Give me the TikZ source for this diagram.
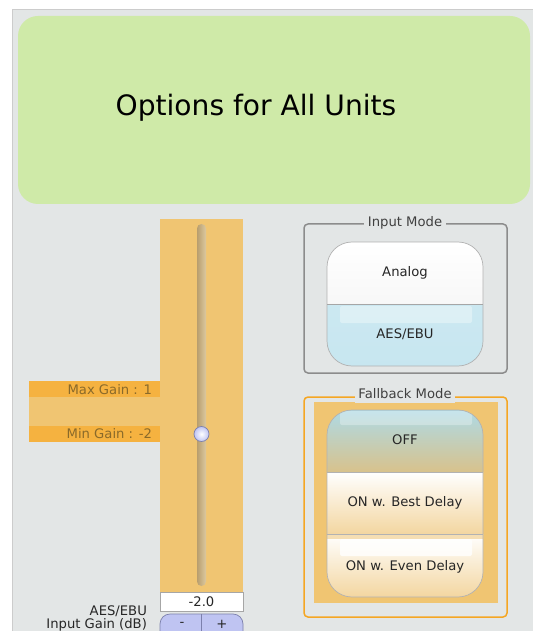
\documentclass[tikz,border=0pt]{standalone}
\usepackage{fontspec}
\setmainfont{DejaVu Sans}
\usepackage{tikz}
\usetikzlibrary{positioning}
\definecolor{panelgray}{HTML}{E3E6E6}
\definecolor{headgreen}{HTML}{CFEAA8}
\definecolor{sliderorange}{HTML}{F0C572}
\definecolor{bandorange}{HTML}{F5B240}
\definecolor{gaintext}{HTML}{8A6A2A}
\definecolor{groupgray}{HTML}{8C8C8C}
\definecolor{grouporange}{HTML}{F5A623}
\definecolor{trackdark}{HTML}{B89E6E}
\definecolor{tracklight}{HTML}{DCC9A0}
\definecolor{knobblue}{HTML}{BFC4F2}
\definecolor{knobrim}{HTML}{7C80AC}
\definecolor{aesblue}{HTML}{A9D9E8}
\definecolor{offblue}{HTML}{AEDAE6}
\definecolor{offtan}{HTML}{D8C28C}
\definecolor{ontan}{HTML}{F3D6A0}

\begin{document}
\begin{tikzpicture}[x=0.02cm,y=-0.02cm,
  small/.style={font=\fontsize{7.5}{9}\selectfont, text=black!85, inner sep=1pt},
  gainlabel/.style={small, text=gaintext, anchor=east},
  grouptitle/.style={small, fill=panelgray, inner sep=2pt, text=black!75}]
  \clip (0,0) rectangle (533,631);
  \fill[white] (0,0) rectangle (533,631);
  \fill[panelgray] (12,9) rectangle (533,631);
  \draw[black!20] (12.5,631) -- (12.5,9.5) -- (533,9.5);

  % header
  \fill[headgreen, rounded corners=0.4cm] (18,16) rectangle (530,204);
  \node[font=\fontsize{16}{19}\selectfont] (title) at (256,108) {Options for All Units};

  % gain slider
  \fill[bandorange] (29,381) rectangle (160,397);
  \fill[sliderorange] (29,397) rectangle (160,426);
  \fill[bandorange] (29,426) rectangle (160,442);
  \fill[sliderorange] (160,219) rectangle (243,593);
  \shade[left color=trackdark, right color=tracklight, rounded corners=0.09cm] (197,224) rectangle (206,586);
  \node[gainlabel] (maxgain) at (154,389.5) {Max Gain : 1};
  \node[gainlabel] (mingain) at (154,434) {Min Gain : -2};
  \node[circle, draw=knobrim, inner color=white, outer color=knobblue, minimum size=0.3cm, inner sep=0pt] (knob) at (201.5,434) {};

  \node[small, draw=black!35, fill=white, minimum width=1.66cm, minimum height=0.38cm, inner sep=0pt] (gainval) at (201.5,601.5) {-2.0};
  \node[small, anchor=east] (gainname) at (149,611) {AES/EBU};
  \node[small, anchor=east] (gainunit) at (149,625) {Input Gain (dB)};
  \draw[knobrim, fill=knobblue, rounded corners=0.2cm] (160,614) rectangle (243,645);
  \draw[knobrim] (201.5,614) -- (201.5,631);
  \node[small] (minus) at (182,624) {-};
  \node[small] (plus) at (222,624) {+};

  % input mode
  \draw[groupgray, line width=0.03cm, rounded corners=0.08cm] (304,224) rectangle (507,373);
  \node[grouptitle] (inputtitle) at (405,223) {Input Mode};
  \begin{scope}
    \clip[rounded corners=0.5cm] (327,242) rectangle (483,366);
    \shade[top color=white, bottom color=black!3] (327,242) rectangle (483,304);
    \shade[top color=aesblue!60, middle color=aesblue, bottom color=aesblue!65] (327,304) rectangle (483,366);
    \fill[white, opacity=0.35, rounded corners=0.04cm] (340,306) rectangle (472,323);
  \end{scope}
  \draw[black!30, rounded corners=0.5cm] (327,242) rectangle (483,366);
  \draw[black!35] (327,304) -- (483,304);
  \node[small] (analog) at (405,273) {Analog};
  \node[small] (aesebu) at (405,334) {AES/EBU};

  % fallback mode
  \draw[grouporange, line width=0.03cm, rounded corners=0.08cm] (304,397) rectangle (507,617);
  \fill[sliderorange] (314,402) rectangle (498,603);
  \node[grouptitle] (fallbacktitle) at (405,394) {Fallback Mode};
  \begin{scope}
    \clip[rounded corners=0.5cm] (327,410) rectangle (483,597);
    \shade[top color=offblue, bottom color=offtan] (327,410) rectangle (483,472);
    \fill[white, opacity=0.3, rounded corners=0.04cm] (340,411) rectangle (472,425);
    \shade[top color=white, bottom color=ontan] (327,472) rectangle (483,534);
    \shade[top color=white, middle color=white, bottom color=ontan] (327,534) rectangle (483,597);
    \fill[ontan!80] (327,534) rectangle (483,539);
    \fill[white, opacity=0.8, rounded corners=0.04cm] (340,539) rectangle (472,556);
  \end{scope}
  \draw[black!30, rounded corners=0.5cm] (327,410) rectangle (483,597);
  \draw[black!30] (327,472) -- (483,472);
  \draw[black!30] (327,534) -- (483,534);
  \node[small] (offmode) at (405,440) {OFF};
  \node[small] (bestmode) at (405,503) {ON w. Best Delay};
  \node[small] (evenmode) at (405,567) {ON w. Even Delay};
\end{tikzpicture}
\end{document}
